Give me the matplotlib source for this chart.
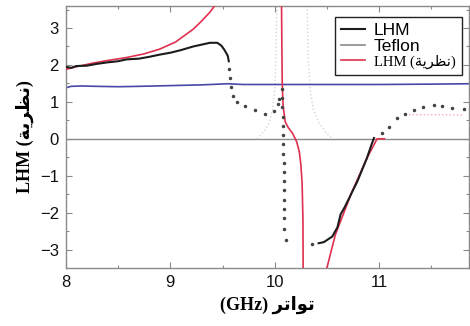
import matplotlib
matplotlib.use("Agg")
import matplotlib.pyplot as plt
from matplotlib.ticker import MultipleLocator

# ---- data ----
lhm_f = [8.0, 8.05, 8.1, 8.2, 8.3, 8.4, 8.5, 8.58, 8.7, 8.8, 8.9, 9.0, 9.1, 9.22, 9.3, 9.38, 9.45, 9.49, 9.52, 9.55, 9.56]
lhm_v = [1.95, 1.92, 1.97, 1.98, 2.03, 2.07, 2.1, 2.15, 2.17, 2.22, 2.28, 2.33, 2.4, 2.5, 2.55, 2.6, 2.6, 2.52, 2.4, 2.25, 2.1]

lhm2_f = [10.42, 10.47, 10.55, 10.6, 10.63, 10.67, 10.71, 10.79, 10.88, 10.93, 10.95]
lhm2_v = [-2.83, -2.8, -2.65, -2.4, -2.05, -1.85, -1.62, -1.16, -0.54, -0.13, 0.02]

dots1_f = [9.56, 9.57, 9.58, 9.60, 9.64, 9.72, 9.81, 9.91, 9.99, 10.03, 10.04]
dots1_v = [1.9, 1.65, 1.4, 1.16, 1.0, 0.89, 0.78, 0.68, 0.75, 0.93, 1.08]

dots2_f = [10.07, 10.07, 10.072, 10.075, 10.078, 10.08, 10.08, 10.082, 10.085, 10.085, 10.087, 10.088, 10.09, 10.09, 10.09, 10.09, 10.11, 10.36]
dots2_v = [1.35, 1.1, 0.85, 0.6, 0.35, 0.1, -0.15, -0.4, -0.65, -0.9, -1.15, -1.4, -1.65, -1.9, -2.15, -2.45, -2.73, -2.86]

dots3_f = [11.03, 11.09, 11.17, 11.25, 11.33, 11.42, 11.52, 11.6, 11.7, 11.81]
dots3_v = [0.15, 0.32, 0.55, 0.68, 0.78, 0.86, 0.91, 0.9, 0.82, 0.8]

teflon_f = [8.0, 8.05, 8.15, 8.3, 8.5, 8.7, 9.0, 9.3, 9.55, 9.7, 10.0, 10.5, 11.0, 11.5, 11.85]
teflon_v = [1.38, 1.42, 1.43, 1.42, 1.41, 1.42, 1.44, 1.46, 1.49, 1.47, 1.47, 1.47, 1.47, 1.48, 1.49]

theo1_f = [8.0, 8.1, 8.26, 8.4, 8.58, 8.75, 8.9, 9.05, 9.22, 9.29, 9.38, 9.45]
theo1_v = [1.88, 1.95, 2.05, 2.12, 2.2, 2.3, 2.43, 2.62, 2.97, 3.16, 3.43, 3.7]

theo2_f = [10.065, 10.068, 10.072, 10.08, 10.1, 10.13, 10.17, 10.21, 10.235, 10.25, 10.262, 10.27, 10.272]
theo2_v = [3.7, 2.5, 1.5, 0.9, 0.46, 0.3, 0.15, -0.08, -0.35, -0.7, -1.2, -2.2, -3.6]

theo3_f = [10.49, 10.58, 10.74, 10.88, 10.98, 11.05]
theo3_v = [-3.6, -2.6, -1.43, -0.54, 0.0, 0.0]

faintA_f = [9.83, 9.9, 9.95, 9.98, 10.0, 10.01, 10.02]
faintA_v = [0.0, 0.2, 0.45, 0.8, 1.3, 2.2, 3.6]
faintB_f = [10.31, 10.32, 10.34, 10.37, 10.42, 10.48, 10.55]
faintB_v = [3.6, 2.2, 1.3, 0.8, 0.45, 0.2, 0.0]
pink_f = [11.25, 11.4, 11.6, 11.8]
pink_v = [0.66, 0.65, 0.65, 0.64]

xticks = [8, 9, 10, 11]
yticks = [-3, -2, -1, 0, 1, 2, 3]

# Arabic text pre-shaped (presentation forms, visual order)
AR_THEORY = "\uFE94\uFEF3\uFEAE\uFEC8\uFEE7"   # نظرية
AR_FREQ = "\uFEAE\uFE97\uFE8D\uFEEE\uFE97"      # تواتر
legend_labels = ["LHM", "Teflon", "LHM (" + AR_THEORY + ")"]
ylabel = "LHM (" + AR_THEORY + ")"
xlabel = "(GHz) " + AR_FREQ

BLACK = "#1c1c1c"
RED = "#e0304f"
BLUE = "#4848a8"
GRAY = "#8a8a8a"

fig = plt.figure(figsize=(4.70, 3.26), dpi=100)
ax = fig.add_axes([0.140, 0.178, 0.858, 0.804])

ax.axhline(0, color=GRAY, lw=1.0, zorder=1)
ax.plot(faintA_f, faintA_v, ls=":", color="#d4d4d4", lw=1.0, zorder=1)
ax.plot(faintB_f, faintB_v, ls=":", color="#d4d4d4", lw=1.0, zorder=1)
ax.plot(pink_f, pink_v, ls=":", color="#f2a8b6", lw=1.0, zorder=1)

l_lhm, = ax.plot(lhm_f, lhm_v, color=BLACK, lw=1.5, zorder=4)
ax.plot(lhm2_f, lhm2_v, color=BLACK, lw=1.5, zorder=4)
for fx, vy in ((dots1_f, dots1_v), (dots2_f, dots2_v), (dots3_f, dots3_v)):
    ax.plot(fx, vy, ls="none", marker="o", ms=1.5, color="#444444", zorder=4)

l_tef, = ax.plot(teflon_f, teflon_v, color=BLUE, lw=1.2, zorder=2)
l_the, = ax.plot(theo1_f, theo1_v, color=RED, lw=1.2, zorder=3)
ax.plot(theo2_f, theo2_v, color=RED, lw=1.2, zorder=3)
ax.plot(theo3_f, theo3_v, color=RED, lw=1.2, zorder=3)

ax.set_xlim(8, 11.86)
ax.set_ylim(-3.5, 3.6)
ax.set_xticks(xticks)
ax.set_yticks(yticks)
ax.xaxis.set_minor_locator(MultipleLocator(0.5))
ax.yaxis.set_minor_locator(MultipleLocator(0.5))
ax.tick_params(which="both", direction="in", top=True, right=True, colors=GRAY,
               labelcolor="#111111", width=0.8)
ax.tick_params(which="major", length=4, labelsize=12, pad=5)
ax.tick_params(which="minor", length=2)
for lab in ax.get_xticklabels() + ax.get_yticklabels():
    lab.set_fontfamily("Liberation Sans")
for s in ax.spines.values():
    s.set_color(GRAY)
    s.set_linewidth(1.0)

ax.set_ylabel(ylabel, fontsize=13, fontweight="bold",
              family=["Liberation Serif", "DejaVu Sans"], labelpad=4)
ax.set_xlabel(xlabel, fontsize=13, fontweight="bold",
              family=["Liberation Serif", "DejaVu Sans"], labelpad=4)

leg = ax.legend([l_lhm, l_tef, l_the], legend_labels, loc="upper right",
                bbox_to_anchor=(0.99, 0.97), fancybox=False, framealpha=1,
                edgecolor="#222222", handlelength=1.4,
                handletextpad=0.5, labelspacing=0.0, borderpad=0.35,
                borderaxespad=0.2,
                prop={"family": "Liberation Sans", "size": 12.5})
leg.get_frame().set_linewidth(1.0)
leg.legend_handles[1].set_color(GRAY)
t3 = leg.get_texts()[2]
t3.set_fontfamily(["Liberation Serif", "DejaVu Sans"])
t3.set_fontsize(10.5)
leg.set_zorder(10)

fig.savefig("out.png", dpi=100)
